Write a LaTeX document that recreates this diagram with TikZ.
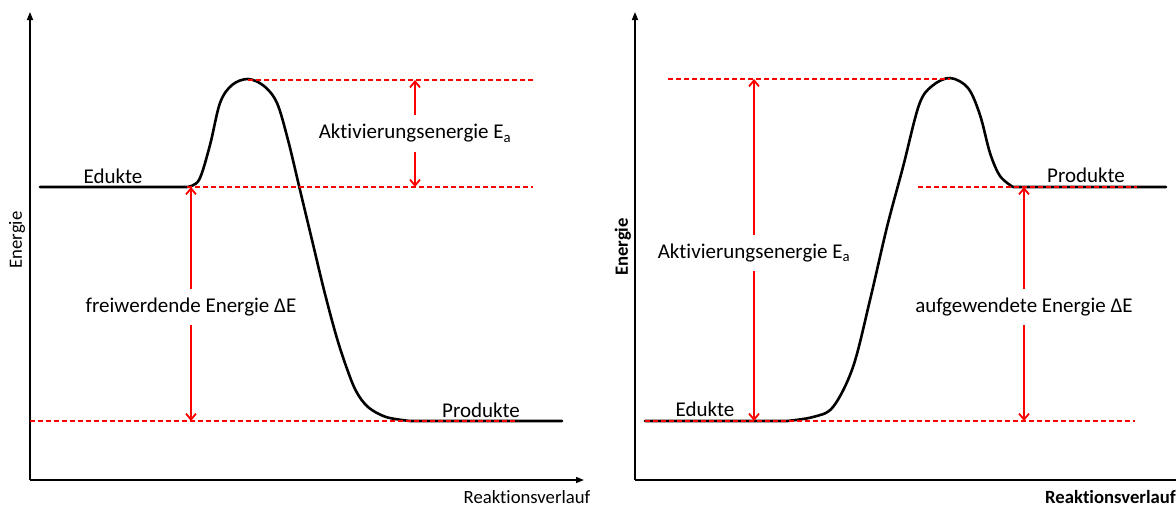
\documentclass[tikz,border=0pt]{standalone}
\usepackage{fontspec}
\setmainfont{Carlito}[RawFeature=-liga]
\usetikzlibrary{arrows.meta}
\begin{document}
\begin{tikzpicture}[x=1pt,y=-1pt,
  axis/.style={line width=1.6pt, -{Triangle[length=8pt,width=6pt]}},
  curve/.style={line width=2.6pt, line join=round, line cap=round},
  guide/.style={red, line width=1.3pt, dash pattern=on 5pt off 3pt},
  energyarrow/.style={red, line width=1.8pt, {Straight Barb[length=6pt,width=10pt]}-{Straight Barb[length=6pt,width=10pt]}},
  lbl/.style={font=\fontsize{21}{25}\selectfont, inner sep=0pt, text=black},
  gaplbl/.style={lbl, fill=white, inner ysep=9pt, inner xsep=3pt},
  axlbl/.style={font=\fontsize{18.7}{22}\selectfont, inner sep=0pt, text=black}]
\clip (0,0) rectangle (1176,506);
\fill[white] (0,0) rectangle (1176,506);

% ---------------- left panel ----------------
\coordinate (LO) at (30,480);
\coordinate (LYtip) at (30,12);
\coordinate (LXtip) at (584,480);
\draw[axis] (LO) -- (LYtip);
\draw[axis] (LO) -- (LXtip);
\node[axlbl] (LXlab) at (527,497) {Reaktionsverlauf};
\node[axlbl, rotate=90] (LYlab) at (17,240) {Energie};

\coordinate (LE0) at (40,187);
\coordinate (LE1) at (187,187);
\coordinate (LP1) at (562,421);
\draw[curve] (LE0) -- (LE1)
  plot[smooth, tension=0.55] coordinates {(187,187) (199,180) (210,145) (220,103) (232,85) (248,79) (264,86) (277,103) (288,140) (300,190) (312,240) (324,290) (336,335) (346,366) (356,391) (368,407) (386,417) (410,421)}
  -- (LP1);
\node[lbl] (LEd) at (113,176) {Edukte};
\node[lbl] (LPr) at (481,410) {Produkte};

\coordinate (LGt0) at (248,80);
\coordinate (LGt1) at (533,80);
\coordinate (LGm0) at (187,187);
\coordinate (LGm1) at (533,187);
\coordinate (LGb0) at (30,421);
\coordinate (LGb1) at (518,421);
\draw[guide] (LGt0) -- (LGt1);
\draw[guide] (LGm0) -- (LGm1);
\draw[guide] (LGb0) -- (LGb1);

\coordinate (LA0) at (415,80);
\coordinate (LA1) at (415,187);
\draw[energyarrow] (LA0) -- (LA1) node[gaplbl, midway] (LAlab) {Aktivierungsenergie E\textsubscript{a}};
\coordinate (LD0) at (191,187);
\coordinate (LD1) at (191,421);
\draw[energyarrow] (LD0) -- (LD1) node[gaplbl, midway, yshift=-3pt] (LDlab) {freiwerdende Energie ΔE};

% ---------------- right panel ----------------
\coordinate (RO) at (635,480);
\coordinate (RYtip) at (635,12);
\coordinate (RXtip) at (1200,480);
\draw[axis] (RO) -- (RYtip);
\draw[axis] (RO) -- (RXtip);
\node[axlbl, font=\fontsize{18.7}{22}\selectfont\bfseries, anchor=west] (RXlab) at (1045,497) {Reaktionsverlauf};
\node[axlbl, font=\fontsize{18.7}{22}\selectfont\bfseries, rotate=90] (RYlab) at (623,247) {Energie};

\coordinate (RE0) at (645,421);
\coordinate (RE1) at (787,421);
\coordinate (RP1) at (1166,187);
\draw[curve] (RE0) -- (RE1)
  plot[smooth, tension=0.55] coordinates {(787,421) (813,417) (833,407) (853,367) (870,300) (887,227) (903,167) (919,105) (932,86) (950,78) (968,88) (980,115) (990,153) (1000,176) (1013,187)}
  -- (RP1);
\node[lbl] (REd) at (705,409) {Edukte};
\node[lbl] (RPr) at (1086,175) {Produkte};

\coordinate (RGt0) at (668,79);
\coordinate (RGt1) at (950,79);
\coordinate (RGm0) at (918,187);
\coordinate (RGm1) at (1137,187);
\coordinate (RGb0) at (645,421);
\coordinate (RGb1) at (1135,421);
\draw[guide] (RGt0) -- (RGt1);
\draw[guide] (RGm0) -- (RGm1);
\draw[guide] (RGb0) -- (RGb1);

\coordinate (RA0) at (754,79);
\coordinate (RA1) at (754,421);
\draw[energyarrow] (RA0) -- (RA1) node[gaplbl, midway, yshift=-3pt] (RAlab) {Aktivierungsenergie E\textsubscript{a}};
\coordinate (RD0) at (1024,187);
\coordinate (RD1) at (1024,421);
\draw[energyarrow] (RD0) -- (RD1) node[gaplbl, midway, yshift=-3pt] (RDlab) {aufgewendete Energie ΔE};
\end{tikzpicture}
\end{document}
